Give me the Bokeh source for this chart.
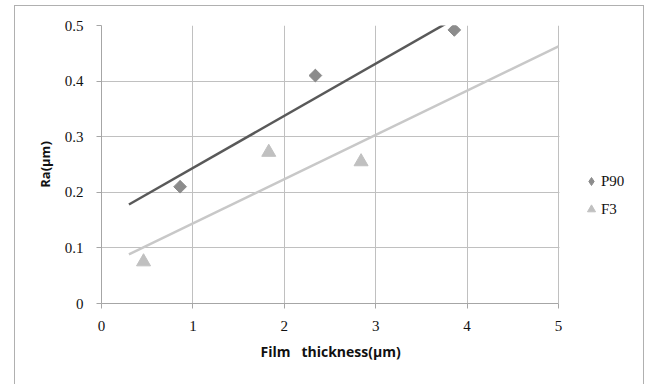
import numpy as np
from bokeh.plotting import figure
from bokeh.models import Legend, LegendItem, FixedTicker, Range1d, BoxAnnotation, Title
from bokeh.embed import file_html
from bokeh.resources import INLINE

# data
p90_x = [0.86, 2.34, 3.86]
p90_y = [0.21, 0.41, 0.492]
f3_x = [0.46, 1.83, 2.84]
f3_y = [0.075, 0.272, 0.255]
x_ticks = [0, 1, 2, 3, 4, 5]
y_ticks = [0, 0.1, 0.2, 0.3, 0.4, 0.5]
trend_span = [0.3, 5.0]
x_max = 5

# linear trend lines (least squares)
k1, b1 = np.polyfit(p90_x, p90_y, 1)
k2, b2 = np.polyfit(f3_x, f3_y, 1)
tx = np.array(trend_span)

# the frame is extended to the right so the legend can live inside it;
# x = 5 stays at 457 px from the left of the frame
frame_w = 544
plot_w = 457
p = figure(width=630, height=379, output_backend="svg", toolbar_location=None,
           x_range=Range1d(0, x_max * frame_w / plot_w), y_range=Range1d(0, 0.5),
           min_border_left=86, min_border_right=0, min_border_top=19,
           min_border_bottom=82)
p.margin = (5, 0, 0, 14)
p.styles = {"border-left": "1px solid #b0b0b0", "border-top": "1px solid #b0b0b0",
            "border-right": "1px solid #b0b0b0"}
p.outline_line_color = None
p.background_fill_color = "white"
p.border_fill_color = "white"

for g in (p.xgrid[0], p.ygrid[0]):
    g.grid_line_color = "#c0c0c0"
    g.grid_line_width = 1

p.xaxis.ticker = FixedTicker(ticks=x_ticks)
p.yaxis.ticker = FixedTicker(ticks=y_ticks)
p.xaxis.bounds = (0, x_max)
p.yaxis.major_label_overrides = {0: "0", 0.1: "0.1", 0.2: "0.2", 0.3: "0.3", 0.4: "0.4", 0.5: "0.5"}
for ax in (p.xaxis[0], p.yaxis[0]):
    ax.axis_line_color = "#a6a6a6"
    ax.major_tick_line_color = "#a6a6a6"
    ax.major_tick_in = 0
    ax.major_tick_out = 5
    ax.minor_tick_line_color = None
    ax.major_label_text_font = "Liberation Serif"
    ax.major_label_text_font_size = "15px"
    ax.major_label_text_color = "#111111"
    ax.axis_label_text_font = "Open Sans"
    ax.axis_label_text_font_style = "bold"
    ax.axis_label_text_font_size = "13px"
    ax.axis_label_text_color = "#111111"
p.yaxis.axis_label = "Ra(μm)"
p.xaxis.major_label_standoff = 12
p.yaxis.major_label_standoff = 13
p.yaxis.axis_label_standoff = 8

# x axis title, placed under the 0..5 part of the frame
xt = Title(text="Film\u00a0\u00a0\u00a0thickness(μm)", align="left", offset=159,
           text_font="Open Sans", text_font_style="bold", text_font_size="14px",
           text_color="#111111", standoff=13)
p.add_layout(xt, "below")

p.line(tx, k1 * tx + b1, line_color="#595959", line_width=2.5)
p.line(tx, k2 * tx + b2, line_color="#c8c8c8", line_width=2.5)
# diamond renderer (also used as the legend key), covered by rotated squares
r1 = p.scatter(p90_x, p90_y, marker="diamond", size=12,
               fill_color="#8c8c8c", line_color="#8c8c8c")
p.scatter(p90_x, p90_y, marker="square", size=9, angle=np.pi / 4,
          fill_color="#8c8c8c", line_color="#8c8c8c")
r2 = p.scatter(f3_x, f3_y, marker="triangle", size=14, fill_color="#c0c0c0", line_color="#c0c0c0")

# white cover for the grid lines to the right of x = 5
p.add_layout(BoxAnnotation(left=x_max + 0.01, fill_color="white", fill_alpha=1,
                           line_color=None))

leg = Legend(items=[LegendItem(label="P90", renderers=[r1]),
                    LegendItem(label="F3", renderers=[r2])],
             location=(480, 84),
             label_text_font="Liberation Serif", label_text_font_size="15px",
             label_text_color="#111111")
leg.glyph_width = 20
leg.glyph_height = 20
leg.padding = 0
leg.margin = 0
leg.spacing = 8
leg.label_standoff = 0
leg.border_line_color = None
leg.background_fill_alpha = 0
leg.label_height = 12
p.add_layout(leg)

open("out.html", "w").write(file_html(p, INLINE))
